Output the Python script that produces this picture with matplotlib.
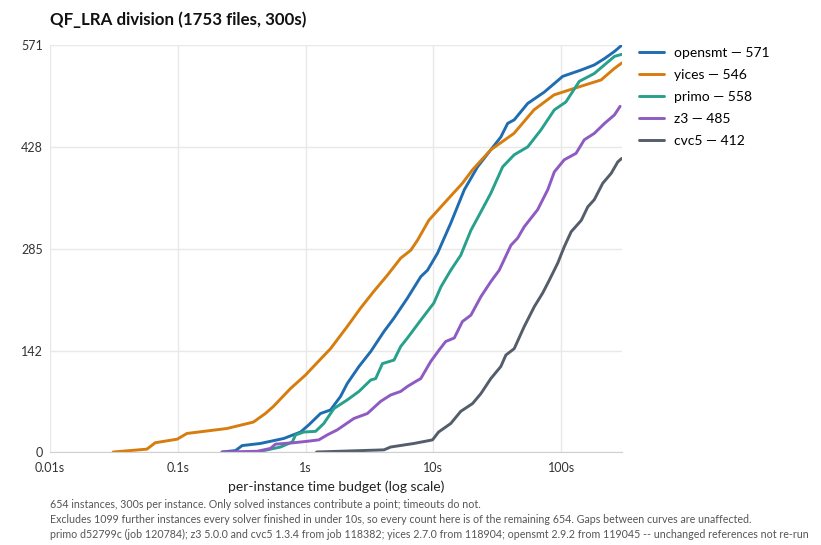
import matplotlib
matplotlib.use("Agg")
import matplotlib.pyplot as plt

plt.rcParams['font.family'] = ['Lato', 'DejaVu Sans']

# cumulative solved count vs per-instance time (s)
opensmt_t = [0.222, 0.283, 0.319, 0.444, 0.676, 0.914, 1.06, 1.31, 1.57, 1.88, 2.12, 2.62,
             3.24, 4.11, 4.93, 6.28, 7.98, 9.01, 10.8, 13.7, 17.5, 22.2, 28.2, 33.8, 38.2,
             43.0, 54.8, 74.0, 103, 144, 182, 219, 262, 300]
opensmt_n = [0, 2, 9, 12, 19, 28, 38, 54, 59, 78, 96, 120, 141, 169, 188, 216, 246, 255,
             279, 321, 368, 400, 424, 442, 461, 466, 489, 505, 527, 536, 543, 552, 562, 571]

yices_t = [0.0312, 0.0573, 0.0667, 0.099, 0.118, 0.243, 0.391, 0.485, 0.561, 0.762, 1.0,
           1.156, 1.57, 2.12, 2.70, 3.41, 4.37, 5.56, 6.66, 7.52, 9.22, 12.9, 16.9, 20.3,
           28.2, 42.8, 61.4, 88.1, 126, 206, 261, 300]
yices_n = [0, 4, 13, 18, 26, 33, 42, 54, 64, 89, 108, 120, 145, 176, 202, 225, 248, 272,
           283, 297, 325, 354, 377, 396, 424, 447, 480, 501, 510, 522, 538, 546]

primo_t = [0.418, 0.501, 0.637, 0.787, 0.836, 0.97, 1.20, 1.39, 1.67, 2.12, 2.62, 3.24,
           3.54, 4.00, 4.93, 5.56, 6.28, 7.98, 10.1, 11.5, 13.7, 16.4, 19.7, 23.6, 28.2,
           34.9, 43.0, 54.8, 69.7, 88.6, 109, 139, 182, 225, 262, 300]
primo_n = [0, 3, 7, 14, 24, 28, 29, 40, 61, 73, 85, 101, 103, 124, 129, 148, 160, 185,
           209, 232, 255, 276, 311, 337, 363, 400, 417, 428, 452, 480, 491, 520, 531, 545,
           555, 558]

z3_t = [0.222, 0.418, 0.531, 0.582, 0.809, 1.03, 1.27, 1.48, 1.77, 2.39, 3.05, 3.87, 4.64,
        5.56, 6.28, 7.29, 7.98, 9.55, 11.1, 12.5, 14.6, 16.9, 19.7, 23.6, 28.2, 32.8, 40.5,
        45.7, 51.5, 56.4, 65.6, 78.7, 88.6, 106, 131, 152, 182, 219, 262, 290]
z3_n = [0, 1, 5, 11, 13, 15, 17, 24, 31, 47, 54, 71, 80, 85, 92, 99, 103, 127, 143, 155,
        160, 183, 192, 218, 239, 255, 290, 300, 316, 325, 340, 368, 393, 410, 419, 438,
        447, 461, 473, 485]

cvc5_t = [1.22, 4.11, 4.64, 7.07, 9.86, 11.0, 12.5, 13.7, 16.4, 20.3, 23.6, 28.2, 33.8,
          37.0, 43.0, 51.5, 61.8, 71.8, 80.9, 94.2, 106, 120, 144, 162, 182, 212, 247,
          278, 299]
cvc5_n = [0, 3, 7, 12, 17, 28, 35, 40, 57, 68, 82, 103, 120, 136, 145, 176, 204, 223, 241,
          265, 288, 309, 325, 344, 354, 377, 391, 407, 412]

solvers = ['opensmt', 'yices', 'primo', 'z3', 'cvc5']
series = [(opensmt_t, opensmt_n), (yices_t, yices_n), (primo_t, primo_n),
          (z3_t, z3_n), (cvc5_t, cvc5_n)]
colors = ['#1f6db0', '#d67d0e', '#27a08c', '#8e5bc2', '#545d6b']

x_ticks = [0.01, 0.1, 1, 10, 100]
x_labels = ['0.01s', '0.1s', '1s', '10s', '100s']
y_ticks = [0, 142, 285, 428, 571]

fig = plt.figure(figsize=(8.21, 5.45), dpi=100)
ax = fig.add_axes([50 / 821, 93 / 545, 572 / 821, 407 / 545])

for name, (t, n), c in zip(solvers, series, colors):
    ax.plot(t, n, color=c, lw=2.1, label=f'{name} \u2014 {n[-1]}',
            solid_joinstyle='round', solid_capstyle='round')

ax.set_xscale('log')
ax.set_xlim(0.01, 300)
ax.set_ylim(0, 571)
ax.set_xticks(x_ticks)
ax.set_xticklabels(x_labels)
ax.minorticks_off()
ax.set_yticks(y_ticks)
ax.grid(True, color='#e8e8e8', lw=1)
ax.set_axisbelow(True)
for s in ['top', 'right', 'left']:
    ax.spines[s].set_visible(False)
ax.spines['bottom'].set_color('#d0d0d0')
ax.tick_params(length=0, labelsize=9, colors='#333333', pad=7)
ax.tick_params(axis='y', pad=5)
ax.set_xlabel('per-instance time budget (log scale)', fontsize=10, color='#222222',
              labelpad=5)

fig.text(50 / 821, 1 - 20 / 545, 'QF_LRA division (1753 files, 300s)', fontsize=12.2,
         fontweight='bold', va='center', ha='left', color='#111111')

leg = ax.legend(loc='upper left', bbox_to_anchor=(1.012, 1.02), frameon=False,
                fontsize=10, handlelength=1.8, handletextpad=0.75, labelspacing=0.72,
                borderaxespad=0.3)

notes = [
    '654 instances, 300s per instance. Only solved instances contribute a point; timeouts do not.',
    'Excludes 1099 further instances every solver finished in under 10s, so every count here is of the remaining 654. Gaps between curves are unaffected.',
    'primo d52799c (job 120784); z3 5.0.0 and cvc5 1.3.4 from job 118382; yices 2.7.0 from 118904; opensmt 2.9.2 from 119045 -- unchanged references not re-run',
]
for i, line in enumerate(notes):
    fig.text(50 / 821, 1 - (505 + i * 14.5) / 545, line, fontsize=7.7, color='#555555',
             va='center', ha='left')

fig.savefig('out.png', dpi=100)
